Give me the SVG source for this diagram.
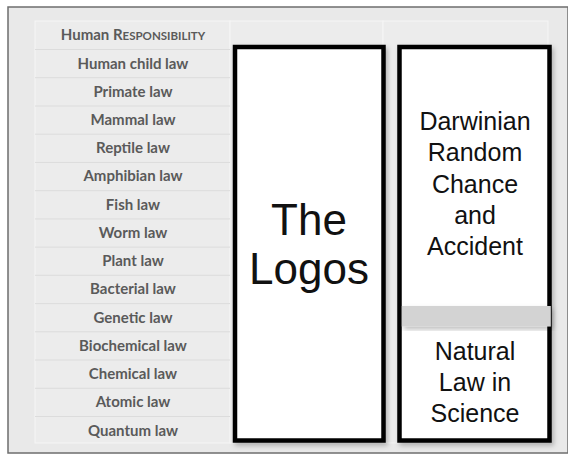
<svg xmlns="http://www.w3.org/2000/svg" width="568" height="457" viewBox="0 0 568 457">
  <style>
    .frame { fill: #e9e9e9; stroke: #6e6e6e; stroke-width: 1.5; }
    .cell { fill: #ececec; stroke: #f6f6f6; stroke-width: 1; }
    .sep { stroke: #dcdcdc; stroke-width: 1; }
    .law { font-family: Lato, "Liberation Sans", sans-serif; font-weight: bold; font-size: 15px; fill: #5a5a5a; text-anchor: middle; }
    .box { fill: #ffffff; stroke: #000; stroke-width: 4.5; }
    .big { font-family: "Liberation Sans", Arial, sans-serif; font-size: 44px; fill: #111; text-anchor: middle; }
    .mid { font-family: "Liberation Sans", Arial, sans-serif; font-size: 25px; fill: #111; text-anchor: middle; }
  </style>
  <defs>
    <filter id="shadow" x="-10%" y="-10%" width="130%" height="130%">
      <feDropShadow dx="2" dy="3" stdDeviation="2.5" flood-color="#000" flood-opacity="0.25"/>
    </filter>
  </defs>

  <rect width="568" height="457" fill="#ffffff"/>
  <rect class="frame" x="8" y="7" width="560" height="446"/>

  <!-- table background cells -->
  <g id="law-table">
    <rect class="cell" x="35" y="21" width="195" height="422"/>
    <rect class="cell" x="230" y="21" width="153" height="422"/>
    <rect class="cell" x="383" y="21" width="165" height="422"/>
    <g id="row-separators">
      <line class="sep" x1="35" y1="49.5" x2="230" y2="49.5"/>
      <line class="sep" x1="35" y1="77.7" x2="230" y2="77.7"/>
      <line class="sep" x1="35" y1="106" x2="230" y2="106"/>
      <line class="sep" x1="35" y1="134.2" x2="230" y2="134.2"/>
      <line class="sep" x1="35" y1="162.4" x2="230" y2="162.4"/>
      <line class="sep" x1="35" y1="190.7" x2="230" y2="190.7"/>
      <line class="sep" x1="35" y1="218.9" x2="230" y2="218.9"/>
      <line class="sep" x1="35" y1="247.1" x2="230" y2="247.1"/>
      <line class="sep" x1="35" y1="275.3" x2="230" y2="275.3"/>
      <line class="sep" x1="35" y1="303.6" x2="230" y2="303.6"/>
      <line class="sep" x1="35" y1="331.8" x2="230" y2="331.8"/>
      <line class="sep" x1="35" y1="360" x2="230" y2="360"/>
      <line class="sep" x1="35" y1="388.3" x2="230" y2="388.3"/>
      <line class="sep" x1="35" y1="416.5" x2="230" y2="416.5"/>
    </g>

    <g id="header"><text class="law" x="133" y="40" font-size="14.5">Human R<tspan font-size="11.5">ESPONSIBILITY</tspan></text></g>
    <g id="row-human-child"><text class="law" x="133" y="68.5">Human child law</text></g>
    <g id="row-primate"><text class="law" x="133" y="96.7">Primate law</text></g>
    <g id="row-mammal"><text class="law" x="133" y="125">Mammal law</text></g>
    <g id="row-reptile"><text class="law" x="133" y="153.2">Reptile law</text></g>
    <g id="row-amphibian"><text class="law" x="133" y="181.4">Amphibian law</text></g>
    <g id="row-fish"><text class="law" x="133" y="209.7">Fish law</text></g>
    <g id="row-worm"><text class="law" x="133" y="237.9">Worm law</text></g>
    <g id="row-plant"><text class="law" x="133" y="266.1">Plant law</text></g>
    <g id="row-bacterial"><text class="law" x="133" y="294.3">Bacterial law</text></g>
    <g id="row-genetic"><text class="law" x="133" y="322.6">Genetic law</text></g>
    <g id="row-biochemical"><text class="law" x="133" y="350.8">Biochemical law</text></g>
    <g id="row-chemical"><text class="law" x="133" y="379">Chemical law</text></g>
    <g id="row-atomic"><text class="law" x="133" y="407.3">Atomic law</text></g>
    <g id="row-quantum"><text class="law" x="133" y="435.5">Quantum law</text></g>
  </g>

  <!-- The Logos -->
  <g id="logos">
    <rect class="box" x="235" y="47" width="148.5" height="393.5" filter="url(#shadow)"/>
    <text class="big" x="309" y="235">The</text>
    <text class="big" x="309" y="284">Logos</text>
  </g>

  <!-- Darwinian chance -->
  <g id="darwinian">
    <rect class="box" x="399.5" y="47" width="150" height="393.5" filter="url(#shadow)"/>
    <text class="mid" x="475" y="129.5">Darwinian</text>
    <text class="mid" x="475" y="161">Random</text>
    <text class="mid" x="475" y="192.5">Chance</text>
    <text class="mid" x="475" y="224">and</text>
    <text class="mid" x="475" y="254.5">Accident</text>
  </g>

  <!-- divider band -->
  <g id="divider">
    <rect x="401.8" y="306" width="149" height="20.5" fill="#d3d3d3" filter="url(#shadow)"/>
  </g>

  <!-- Natural law -->
  <g id="natural-law">
    <text class="mid" x="475" y="360">Natural</text>
    <text class="mid" x="475" y="391">Law in</text>
    <text class="mid" x="475" y="422">Science</text>
  </g>
</svg>
